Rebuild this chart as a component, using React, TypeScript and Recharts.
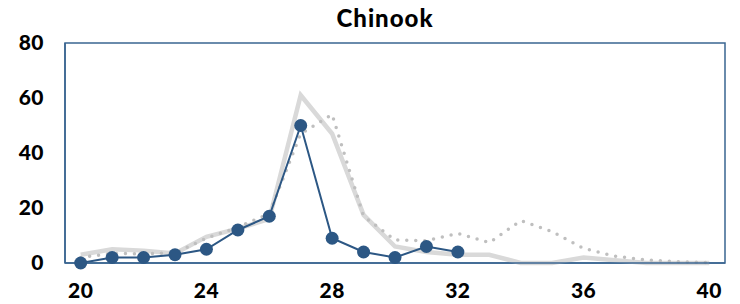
import React from 'react';
import { LineChart, Line, XAxis, YAxis, ReferenceArea } from 'recharts';

const weeks = [20, 21, 22, 23, 24, 25, 26, 27, 28, 29, 30, 31, 32, 33, 34, 35, 36, 37, 38, 39, 40];
const currentYear: (number | null)[] = [0, 2, 2, 3, 5, 12, 17, 50, 9, 4, 2, 6, 4, null, null, null, null, null, null, null, null];
const averageSeries = [3, 5, 4.5, 3.5, 9.5, 12.5, 16, 61, 47, 17.5, 6, 4, 3, 3, 0, 0, 2, 1, 0, 0, 0];
const priorYear = [2, 3.5, 3.3, 3.7, 9, 13, 18, 47, 54, 17, 8.4, 8.1, 10.8, 7.4, 15.4, 11.4, 5.3, 2.5, 1.1, 0.5, 0.1];
const xTicks = [20, 24, 28, 32, 36, 40];
const yTicks = [0, 20, 40, 60, 80];
const title = 'Chinook';

const data = weeks.map((w, i) => ({
  week: w,
  current: currentYear[i],
  average: averageSeries[i],
  prior: priorYear[i],
}));

const font = 'Lato, "Open Sans", sans-serif';
const blue = '#2c5784';
const tickStyle = { fill: '#000', fontFamily: font, fontWeight: 900, fontSize: 21, letterSpacing: 0.5 };

export default function App() {
  return (
    <div style={{ position: 'absolute', left: 0, top: 0, width: 740, height: 304, background: '#fff' }}>
      <div
        style={{
          position: 'absolute',
          left: 0,
          width: 770,
          top: 4,
          textAlign: 'center',
          fontFamily: font,
          fontWeight: 900,
          fontSize: 24,
          letterSpacing: 1,
          color: '#000',
          lineHeight: '28px',
        }}
      >
        {title}
      </div>
      <LineChart width={740} height={304} data={data} margin={{ top: 43, right: 15, bottom: 0, left: 0 }}>
        <XAxis
          dataKey="week"
          type="number"
          domain={[19.5, 40.5]}
          ticks={xTicks}
          allowDataOverflow
          height={41}
          tickLine={false}
          tickSize={0}
          tickMargin={20}
          axisLine={{ stroke: '#3a6591', strokeWidth: 1.5 }}
          tick={tickStyle}
        />
        <YAxis
          type="number"
          domain={[0, 80]}
          ticks={yTicks}
          width={65}
          tickLine={false}
          tickSize={0}
          tickMargin={21}
          axisLine={{ stroke: '#3a6591', strokeWidth: 1.5 }}
          tick={tickStyle}
        />
        <ReferenceArea x1={19.5} x2={40.5} y1={0} y2={80} fill="none" stroke="#3a6591" strokeWidth={1.5} />
        <Line
          dataKey="average"
          stroke="#d9d9d9"
          strokeWidth={4.5}
          dot={false}
          activeDot={false}
          isAnimationActive={false}
        />
        <Line
          dataKey="prior"
          stroke="#bfbfbf"
          strokeWidth={3.5}
          strokeDasharray="0 9"
          strokeLinecap="round"
          dot={false}
          activeDot={false}
          isAnimationActive={false}
        />
        <Line
          dataKey="current"
          stroke={blue}
          strokeWidth={2}
          dot={{ r: 6.5, fill: blue, stroke: blue, strokeWidth: 0 }}
          activeDot={false}
          connectNulls={false}
          isAnimationActive={false}
        />
      </LineChart>
    </div>
  );
}
